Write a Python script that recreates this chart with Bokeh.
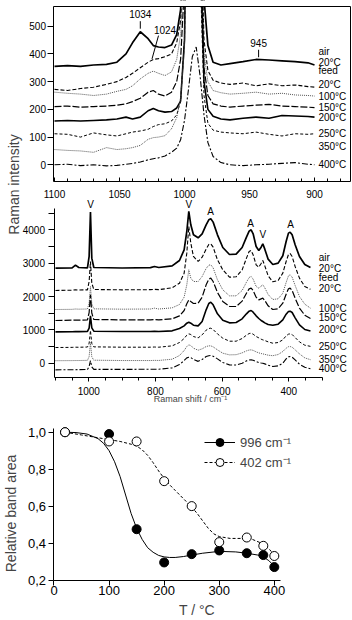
import numpy as np
from math import pi
from bokeh.plotting import figure
from bokeh.models import (Range1d, LinearAxis, FixedTicker, Label, Legend, AllLabels,
                          LegendItem, CustomJSTickFormatter, BoxAnnotation)
from bokeh.core.properties import value
from bokeh.embed import file_html
from bokeh.resources import INLINE

FONT = "Liberation Sans"

# ---------------- data: top panel (1100-900 cm-1) ----------------
top_x = [1100, 1090, 1080, 1070, 1060, 1052, 1045, 1040, 1034, 1028, 1024, 1020, 1015, 1010,
         1006, 1003, 1000, 997, 994, 991, 988, 985, 982, 978, 972, 965, 955, 945, 935, 925,
         915, 905, 900]
top_air = [355, 358, 355, 360, 362, 370, 400, 440, 480, 455, 430, 425, 423, 432, 470, 560, 900,
           2000, 3000, 2500, 1200, 600, 430, 370, 360, 365, 372, 380, 378, 375, 372, 368, 360]
top_feed = [272, 268, 275, 280, 290, 300, 315, 330, 350, 370, 380, 383, 390, 400, 440, 520, 800,
            1800, 2800, 2300, 1000, 450, 340, 305, 295, 290, 295, 285, 292, 285, 288, 282, 280]
top_100 = [262, 258, 255, 250, 255, 265, 272, 285, 310, 330, 338, 330, 322, 335, 380, 470, 750,
           1700, 2700, 2200, 950, 400, 300, 268, 260, 255, 258, 262, 255, 258, 252, 250, 248]
top_150 = [210, 212, 208, 210, 212, 215, 220, 228, 240, 262, 268, 255, 248, 262, 300, 380, 650,
           1500, 2500, 2000, 850, 350, 250, 220, 212, 208, 212, 215, 218, 212, 210, 208, 206]
top_200 = [158, 160, 158, 160, 162, 165, 172, 165, 172, 195, 203, 195, 190, 192, 205, 230, 450,
           1400, 2400, 1900, 800, 300, 200, 175, 165, 162, 168, 172, 168, 178, 176, 174, 172]
top_250 = [112, 110, 100, 115, 108, 104, 112, 118, 122, 128, 138, 145, 148, 158, 180, 230, 450,
           1300, 2300, 1800, 700, 250, 150, 125, 118, 115, 112, 118, 110, 104, 112, 110, 112]
top_350 = [55, 52, 50, 45, 62, 55, 58, 62, 70, 92, 98, 100, 105, 130, 170, 240, 420, 1100, 2000]
top_400 = [0, 2, -3, 0, -4, -2, 2, 5, 10, 18, 22, 25, 32, 45, 60, 90, 160, 270, 390, 425, 320,
           180, 80, 30, 8, 0, -3, 0, 2, 5, 8, 2, 0]

# ---------------- data: middle panel (full range) ----------------
mid_x = [1100, 1050, 1040, 1030, 1004, 999, 995, 991, 985, 900, 815, 803, 790, 750, 728, 714,
         706, 700, 694, 686, 672, 660, 648, 640, 634, 627, 614, 598, 578, 558, 540, 527, 519,
         513, 507, 498, 490, 483, 478, 472, 462, 448, 432, 418, 408, 401, 396, 390, 381, 368,
         352, 335]
mid_air = [2850, 2860, 2940, 2870, 2860, 3200, 4530, 3150, 2870, 2855, 2865, 2900, 2870, 2920,
           3080, 3400, 3950, 4550, 4150, 3850, 3760, 3880, 4150, 4300, 4330, 4230, 3850, 3470,
           3260, 3270, 3470, 3780, 3960, 4000, 3880, 3500, 3380, 3480, 3580, 3420, 3120, 2960,
           3000, 3220, 3650, 3900, 3930, 3850, 3550, 3200, 2960, 2870]
mid_feed = [2180, 2190, 2200, 2195, 2200, 2450, 3050, 2400, 2210, 2200, 2205, 2215, 2205, 2260,
            2400, 2700, 3300, 4100, 3600, 3200, 3050, 3180, 3420, 3560, 3580, 3480, 3100, 2800,
            2580, 2590, 2800, 3150, 3350, 3380, 3250, 2950, 2880, 2990, 3080, 2920, 2620, 2440,
            2480, 2700, 3050, 3260, 3290, 3200, 2900, 2550, 2300, 2215]
mid_100 = [1610, 1615, 1625, 1620, 1625, 1800, 2300, 1780, 1630, 1620, 1625, 1650, 1625, 1660,
           1760, 1980, 2350, 2800, 2550, 2450, 2450, 2600, 2840, 2940, 2950, 2860, 2500, 2200,
           2020, 2020, 2180, 2430, 2570, 2600, 2520, 2300, 2250, 2310, 2350, 2260, 2060, 1910,
           1930, 2100, 2420, 2620, 2650, 2580, 2330, 2000, 1770, 1650]
mid_150 = [1280, 1290, 1295, 1290, 1300, 1520, 2050, 1500, 1310, 1300, 1300, 1305, 1300, 1330,
           1420, 1580, 1780, 1900, 1850, 1790, 1800, 1980, 2350, 2520, 2550, 2450, 2120, 1850,
           1700, 1700, 1860, 2100, 2230, 2250, 2180, 1980, 1900, 1930, 1950, 1880, 1720, 1610,
           1630, 1800, 2070, 2230, 2250, 2180, 1950, 1650, 1440, 1340]
mid_200 = [940, 945, 950, 948, 955, 1050, 1420, 1060, 960, 950, 950, 955, 950, 970, 1040, 1120,
           1200, 1230, 1200, 1140, 1120, 1250, 1600, 1790, 1830, 1750, 1480, 1290, 1210, 1220,
           1330, 1480, 1560, 1580, 1530, 1420, 1340, 1280, 1250, 1210, 1160, 1140, 1170, 1300,
           1470, 1550, 1560, 1520, 1360, 1150, 1010, 965]
mid_250 = [470, 475, 480, 478, 485, 600, 980, 590, 490, 480, 480, 485, 480, 520, 620, 740, 840,
           880, 860, 800, 760, 850, 990, 1040, 1050, 1010, 880, 750, 660, 660, 740, 840, 890,
           900, 870, 800, 760, 720, 700, 680, 640, 600, 620, 700, 820, 870, 880, 860, 770, 640,
           540, 505]
mid_350 = [75, 78, 80, 80, 85, 200, 620, 190, 90, 80, 80, 85, 82, 120, 230, 380, 500, 550, 530,
           450, 390, 430, 500, 520, 520, 490, 400, 300, 250, 255, 310, 370, 395, 400, 385, 340,
           310, 290, 280, 265, 240, 225, 260, 350, 450, 495, 500, 480, 400, 280, 160, 105]
mid_400 = [-200, -195, -195, -192, -190, -100, 80, -110, -185, -185, -182, -180, -180, -140, -40,
           80, 160, 180, 170, 110, 55, 110, 200, 225, 230, 210, 130, 20, -50, -55, 0, 70, 95,
           100, 90, 50, 20, 5, 0, -20, -60, -100, -80, 0, 130, 190, 200, 180, 100, -30, -120,
           -165]

series_labels = ["air", "20°C", "feed", "20°C", "100°C", "150°C", "200°C", "250°C", "350°C", "400°C"]
top_label_y = [410, 370, 340, 290, 247, 206, 170, 112, 67, 0]
mid_label_y = [3170, 2840, 2570, 2231, 1640, 1380, 1000, 510, 100, -160]

top_ann_text = ["1034", "1024", "945"]
top_ann_x = [1034, 1015, 943]
top_ann_y = [544, 485, 439]
top_mark_x0 = [1034, 1020, 943]
top_mark_y0 = [518, 466, 415]
top_mark_x1 = [1034, 1025, 943]
top_mark_y1 = [491, 382, 388]

mid_ann_text = ["V", "V", "A", "A", "V", "A"]
mid_ann_x = [995, 700, 635, 515, 478, 395]
mid_ann_y = [4750, 4750, 4560, 4200, 3850, 4170]

# ---------------- data: bottom panel ----------------
temps = [20, 100, 150, 200, 250, 300, 350, 380, 400]
area_996 = [1.0, 0.99, 0.475, 0.295, 0.34, 0.36, 0.345, 0.335, 0.27]
area_402 = [1.0, 0.95, 0.95, 0.735, 0.60, 0.405, 0.43, 0.385, 0.33]
fit996_T = [20, 40, 60, 80, 90, 100, 110, 120, 130, 140, 150, 160, 170, 180, 190, 200, 210, 220,
            235, 250, 270, 300, 330, 350, 370, 380, 390, 400]
fit996_y = [1.0, 0.998, 0.99, 0.965, 0.94, 0.90, 0.84, 0.76, 0.66, 0.56, 0.48, 0.42, 0.375, 0.35,
            0.333, 0.325, 0.322, 0.322, 0.327, 0.335, 0.345, 0.355, 0.352, 0.345, 0.335, 0.325,
            0.305, 0.275]
fit402_T = [20, 50, 80, 100, 120, 140, 150, 160, 170, 180, 190, 200, 210, 220, 230, 240, 250, 260,
            270, 280, 290, 300, 320, 340, 350, 360, 380, 390, 400]
fit402_y = [1.0, 0.985, 0.97, 0.96, 0.95, 0.935, 0.925, 0.905, 0.875, 0.835, 0.79, 0.75, 0.715,
            0.685, 0.655, 0.625, 0.595, 0.56, 0.52, 0.48, 0.45, 0.435, 0.425, 0.425, 0.425, 0.42,
            0.395, 0.37, 0.335]
bot_x_ticks = [100, 200, 300, 400]
bot_origin_tick = [0]

# ---------------- styles / geometry ----------------
STYLES = [("solid", 1.7, "black"), ("4 2", 1.1, "black"), ("1 1", 1.0, "#555555"),
          ("7 2", 1.2, "black"), ("solid", 1.6, "black"), ("3 2", 1.0, "black"),
          ("1 1", 1.0, "#555555"), ("6 2 2 2", 1.1, "black")]

# ranges span the whole canvas; each panel occupies its own part of it
TOP_X = (1141.54, 870.77); TOP_Y = (-1643.94, 592.71)
MID_X = (1264.9, 208.9);   MID_Y = (-7715.1, 10875.6)
BOT_X = (-97.13, 541.94);  BOT_Y = (-0.0192, 3.3367)
TOP_L, TOP_R, TOP_T, TOP_B = 1100.4, 872.3, 571.1, -62
MID_L, MID_B = 1104.4, -429
BOT_L, BOT_B = 0, 0.2

p = figure(width=352, height=620, x_range=Range1d(*MID_X), y_range=Range1d(*MID_Y),
           x_axis_type=None, y_axis_type=None, output_backend="svg", toolbar_location=None,
           min_border=0, outline_line_color=None, title=None)
p.extra_x_ranges = {"top": Range1d(*TOP_X), "bot": Range1d(*BOT_X)}
p.extra_y_ranges = {"top": Range1d(*TOP_Y), "bot": Range1d(*BOT_Y)}


def add_axis(side, xr, yr, loc, bounds, ticks=(), minor=(), t_in=0, t_out=0, m_in=0, m_out=0,
             fs="10px", standoff=3, formatter=None):
    ax = LinearAxis(x_range_name=xr, y_range_name=yr, fixed_location=loc, bounds=bounds,
                    ticker=FixedTicker(ticks=list(ticks), minor_ticks=list(minor)),
                    major_label_policy=AllLabels())
    ax.major_tick_in = t_in
    ax.major_tick_out = t_out
    ax.minor_tick_in = m_in
    ax.minor_tick_out = m_out
    ax.major_label_text_font_size = fs
    ax.major_label_text_font = FONT
    ax.major_label_text_color = "black"
    ax.major_label_standoff = standoff
    ax.axis_line_color = "black"
    ax.major_tick_line_color = "black"
    ax.minor_tick_line_color = "black"
    if formatter is not None:
        ax.formatter = formatter
    p.add_layout(ax, side)
    return ax


# spectra
top_series = [top_air, top_feed, top_100, top_150, top_200, top_250, top_350, top_400]
mid_series = [mid_air, mid_feed, mid_100, mid_150, mid_200, mid_250, mid_350, mid_400]
for ys, (dash, w, c) in zip(top_series, STYLES):
    p.line(top_x[:len(ys)], ys, x_range_name="top", y_range_name="top", line_color=c,
           line_width=w, line_dash=dash)
for ys, (dash, w, c) in zip(mid_series, STYLES):
    p.line(mid_x, ys, line_color=c, line_width=w, line_dash=dash)

# hide the off-scale part of the top-panel peaks (clip at the panel's upper edge)
p.add_layout(BoxAnnotation(bottom=TOP_T + 2, y_range_name="top", fill_color="white",
                           fill_alpha=1.0, line_color=None, level="glyph"))

# top panel box and axes
add_axis("left", "top", "top", TOP_L, (TOP_B, TOP_T), ticks=[0, 100, 200, 300, 400, 500],
         t_out=6, standoff=2)
add_axis("below", "top", "top", TOP_B, (TOP_R, TOP_L), ticks=[1100, 1050, 1000, 950, 900],
         minor=[v for v in range(880, 1100, 10) if v % 50], t_in=4, m_in=3, standoff=8)
add_axis("above", "top", "top", TOP_T, (TOP_R, TOP_L))
add_axis("right", "top", "top", TOP_R, (TOP_B, TOP_T))

# middle panel axes
add_axis("left", "default", "default", MID_L, (MID_B, 4639), ticks=[0, 1000, 2000, 3000, 4000],
         minor=[500, 1500, 2500, 3500, 4500], t_out=6, m_out=6, standoff=3)
add_axis("below", "default", "default", MID_B, (300, MID_L), ticks=[1000, 800, 600, 400],
         minor=[1100, 1050, 950, 900, 850, 750, 700, 650, 550, 500, 450, 350, 300],
         t_out=4, m_out=3, standoff=5)

# bottom panel axes (the origin tick's label is added as text below)
add_axis("below", "bot", "bot", BOT_B, (0, 411), ticks=bot_x_ticks, minor=bot_origin_tick,
         t_out=5, m_out=5, fs="13px", standoff=1)
add_axis("left", "bot", "bot", BOT_L, (BOT_B, 1.02), ticks=[0.2, 0.4, 0.6, 0.8, 1.0], t_out=5,
         fs="13px", standoff=3,
         formatter=CustomJSTickFormatter(code="return tick.toFixed(1).replace('.', ',')"))

txt = dict(text_font=value(FONT), text_color="black")
p.text(x=bot_origin_tick, y=[BOT_B] * len(bot_origin_tick),
       text=[str(v) for v in bot_origin_tick], x_range_name="bot", y_range_name="bot",
       y_offset=6, text_font_size=value("13px"), text_align="center", text_baseline="top",
       **txt)
p.text(x=[897] * len(series_labels), y=top_label_y, text=series_labels,
       x_range_name="top", y_range_name="top", text_font_size=value("10px"),
       text_align="left", text_baseline="middle", **txt)
p.text(x=[310] * len(series_labels), y=mid_label_y, text=series_labels,
       text_font_size=value("10px"), text_align="left", text_baseline="middle", **txt)
p.text(x=top_ann_x, y=top_ann_y, text=top_ann_text, x_range_name="top", y_range_name="top",
       text_font_size=value("10px"), text_align="center", text_baseline="middle", **txt)
p.segment(top_mark_x0, top_mark_y0, top_mark_x1, top_mark_y1, x_range_name="top",
          y_range_name="top", line_color="black", line_width=1)
p.text(x=mid_ann_x, y=mid_ann_y, text=mid_ann_text, text_font_size=value("10px"),
       text_align="center", text_baseline="middle", **txt)

# bottom panel
l996 = p.line(fit996_T, fit996_y, x_range_name="bot", y_range_name="bot", line_color="black",
              line_width=1)
l402 = p.line(fit402_T, fit402_y, x_range_name="bot", y_range_name="bot", line_color="black",
              line_width=1, line_dash="3 2")
s996 = p.scatter(temps, area_996, x_range_name="bot", y_range_name="bot", size=9,
                 fill_color="black", line_color="black")
s402 = p.scatter(temps, area_402, x_range_name="bot", y_range_name="bot", size=9,
                 fill_color="white", line_color="black", line_width=1)

legend = Legend(items=[LegendItem(label="996 cm⁻¹", renderers=[l996, s996]),
                       LegendItem(label="402 cm⁻¹", renderers=[l402, s402])],
                location=(204, 148), background_fill_alpha=0, border_line_color=None,
                label_text_font_size="13px", label_text_font=FONT, glyph_width=31,
                glyph_height=20, label_height=20, spacing=0, padding=0, margin=0,
                label_standoff=5)
p.add_layout(legend)

# axis titles
p.add_layout(Label(x=1131.5, y=-71, x_range_name="top", y_range_name="top",
                   text="Raman intensity", angle=pi / 2, text_align="center",
                   text_baseline="middle", text_font_size="14px", text_font=FONT))
p.add_layout(Label(x=695, y=-1088, text="Raman shift / cm⁻¹", text_align="center",
                   text_baseline="middle", text_font_size="9px", text_font=FONT))
p.add_layout(Label(x=-77.4, y=0.56, x_range_name="bot", y_range_name="bot",
                   text="Relative band area", angle=pi / 2, text_align="center",
                   text_baseline="middle", text_font_size="14px", text_font=FONT))
p.add_layout(Label(x=259.6, y=0.04, x_range_name="bot", y_range_name="bot",
                   text="T / °C", text_align="center", text_baseline="middle",
                   text_font_size="14px", text_font=FONT))

open("out.html", "w").write(file_html(p, INLINE))
